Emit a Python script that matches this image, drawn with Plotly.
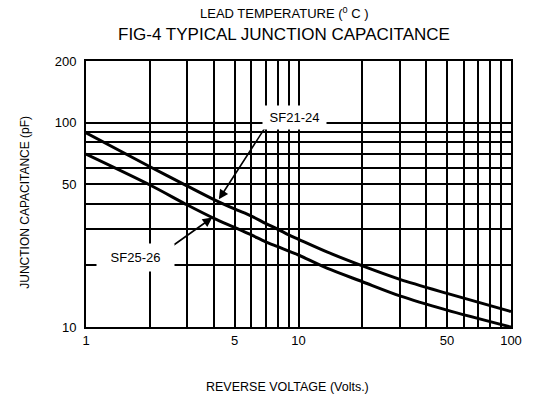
import numpy as np
import plotly.graph_objects as go

# Data
voltage = [1, 2, 3, 4, 5, 6, 7, 8, 9, 10, 13.6, 20, 30, 50, 100]
cap_sf21_24 = [89.0, 60.8, 48.9, 42.0, 37.8, 34.9, 32.1, 30.05, 28.2, 26.85, 23.3, 19.9, 17.1, 14.6, 11.9]
cap_sf25_26 = [70.1, 49.5, 39.5, 34.0, 30.7, 28.2, 26.1, 24.7, 23.5, 22.5, 19.4, 16.65, 14.2, 12.1, 10.0]

x_grid_vals = [1, 2, 3, 4, 5, 6, 7, 8, 9, 10, 20, 30, 40, 50, 60, 70, 80, 90, 100]
x_tick_labels = ["1", "", "", "", "5", "", "", "", "", "10", "", "", "", "50", "", "", "", "", "100"]
y_grid_vals = [10, 20, 30, 40, 50, 60, 70, 80, 90, 100, 200]
y_tick_labels = ["10", "", "", "", "50", "", "", "", "", "100", "200"]

# label arrow tips (data coords)
sf21_tip = (4.22, 42.1)
sf25_tip = (3.93, 34.3)

FONT = "Liberation Sans, Arial"

fig = go.Figure()
fig.add_trace(go.Scatter(x=voltage, y=cap_sf21_24, mode="lines", name="SF21-24",
                         line=dict(color="black", width=3, shape="spline", smoothing=0.8)))
fig.add_trace(go.Scatter(x=voltage, y=cap_sf25_26, mode="lines", name="SF25-26",
                         line=dict(color="black", width=3, shape="spline", smoothing=0.8)))

axis_common = dict(showgrid=True, gridcolor="black", gridwidth=1.5, zeroline=False,
                   showline=True, linecolor="black", linewidth=2, mirror=True, ticks="",
                   tickfont=dict(family=FONT, size=13, color="black"))

fig.update_xaxes(type="log", range=[0, 2], tickmode="array", tickvals=x_grid_vals,
                 ticktext=x_tick_labels, **axis_common)
fig.update_yaxes(type="log", range=[1, np.log10(200)], tickmode="array", tickvals=y_grid_vals,
                 ticktext=y_tick_labels, ticklabelstandoff=5, **axis_common)

C = dict(xanchor="center", yanchor="middle", xref="paper", yref="paper", showarrow=False)
anns = [
    dict(text="LEAD TEMPERATURE (<sup>0</sup> C )", x=0.466, y=1.180,
         font=dict(family=FONT, size=13, color="black"), **C),
    dict(text="FIG-4 TYPICAL JUNCTION CAPACITANCE", x=0.466, y=1.098,
         font=dict(family=FONT, size=17, color="black"), **C),
    dict(text="REVERSE VOLTAGE (Volts.)", x=0.473, y=-0.2256,
         font=dict(family=FONT, size=12.5, color="black"), **C),
    dict(text="JUNCTION CAPACITANCE (pF)", x=-0.144, y=0.47, textangle=-90,
         font=dict(family=FONT, size=12, color="black"), **C),
    # arrows
    dict(text="", x=np.log10(sf21_tip[0]), y=np.log10(sf21_tip[1]), xref="x", yref="y",
         showarrow=True, ax=49, ay=-76, arrowhead=2, arrowsize=1.2, arrowwidth=1.6, arrowcolor="black"),
    dict(text="", x=np.log10(sf25_tip[0]), y=np.log10(sf25_tip[1]), xref="x", yref="y",
         showarrow=True, ax=-52, ay=37, arrowhead=2, arrowsize=1.2, arrowwidth=1.6, arrowcolor="black"),
    # labels with white boxes
    dict(text="SF21-24", x=0.4896, y=0.789, bgcolor="white", width=61, height=21,
         font=dict(family=FONT, size=13, color="black"), **C),
    dict(text="SF25-26", x=0.1176, y=0.262, bgcolor="white", width=75, height=25,
         font=dict(family=FONT, size=13, color="black"), **C),
]
fig.update_layout(width=534, height=401, margin=dict(l=86, r=17, t=61, b=74),
                  paper_bgcolor="white", plot_bgcolor="white", showlegend=False,
                  annotations=anns)

fig.write_html("out.html", config={"displayModeBar": False},
               post_script="document.body.style.margin='0';")
